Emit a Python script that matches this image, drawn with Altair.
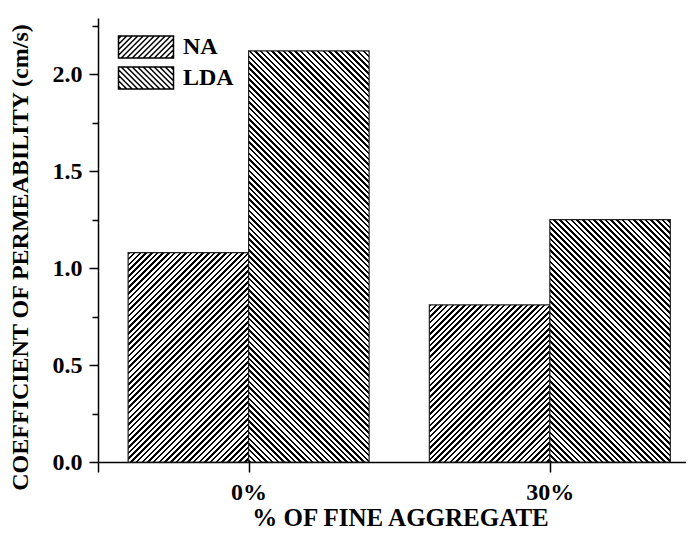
import math
import altair as alt
import pandas as pd

# ---------------- data ----------------
groups = ["0%", "30%"]
series = ["NA", "LDA"]
na_values = [1.08, 0.81]
lda_values = [2.12, 1.25]
y_tick_values = [0.0, 0.25, 0.5, 0.75, 1.0, 1.25, 1.5, 1.75, 2.0, 2.25]

rows = []
for gi, g in enumerate(groups):
    for si, (s, vals) in enumerate(zip(series, [na_values, lda_values])):
        rows.append({"idx": len(rows), "group": g, "gi": gi + 1, "series": s,
                     "si": si, "value": vals[gi]})
df = pd.DataFrame(rows)

# ---------------- layout / style ----------------
W, H = 588, 444
XDOM = [0.5, 2.452]
YDOM = [0.0, 2.29]
BAR = 0.4
FONT = "Liberation Serif"
PERIOD = 5.7      # hatch period (px, measured horizontally)
FRAC = 0.45       # black share of each hatch period
HATCH = {"NA": "/", "LDA": "\\"}

px_x = W / (XDOM[1] - XDOM[0])
px_y = H / (YDOM[1] - YDOM[0])


def hatch_gradient(w, h, kind):
    """Linear gradient with hard stops that draws 45-degree hatching."""
    d = w * w + h * h
    x2 = (w + h) * w / d
    if kind == "/":
        x1, y1, y2 = 0, 0, (w + h) * h / d
    else:
        x1, y1, y2 = 0, 1, 1 - (w + h) * h / d
    n = (w + h) / PERIOD
    stops = []
    i = 0
    while i / n < 1:
        o0 = i / n
        o1 = min((i + FRAC) / n, 1)
        o2 = min((i + 1) / n, 1)
        stops += [
            {"offset": round(o0, 5), "color": "#000000"},
            {"offset": round(o1, 5), "color": "#000000"},
            {"offset": round(o1, 5), "color": "#ffffff"},
            {"offset": round(o2, 5), "color": "#ffffff"},
        ]
        i += 1
    return {"gradient": "linear", "x1": x1, "y1": y1,
            "x2": round(x2, 5), "y2": round(y2, 5), "stops": stops}


def hatch_path(kind, hw=2.5, hh=1.0, step=0.5):
    """Legend symbol: rectangle outline with hatch lines (unit coords)."""
    f = lambda v: f"{v:.3f}".rstrip("0").rstrip(".")
    parts = [f"M{-hw},{-hh}L{hw},{-hh}L{hw},{hh}L{-hw},{hh}Z"]
    c = -(hw + hh) + step / 2
    while c < hw + hh:
        xa, xb = max(-hw, c - hh), min(hw, c + hh)
        if xb - xa > 1e-6:
            if kind == "/":
                parts.append(f"M{f(xa)},{f(c - xa)}L{f(xb)},{f(c - xb)}")
            else:
                parts.append(f"M{f(xa)},{f(xa - c)}L{f(xb)},{f(xb - c)}")
        c += step
    return "".join(parts)


label_expr = " : ".join(
    [f"datum.value == {i + 1} ? '{g}'" for i, g in enumerate(groups)]) + " : ''"

xscale = alt.Scale(domain=XDOM, nice=False, zero=False)
yscale = alt.Scale(domain=YDOM, nice=False, zero=False)

xaxis = alt.Axis(
    values=[XDOM[0]] + [i + 1 for i in range(len(groups))],
    labelExpr=label_expr, tickSize=10, labelPadding=27,
    labelBaseline="alphabetic", labelFlush=False, labelOverlap=False,
    title="% OF FINE AGGREGATE", titleX=302, titleY=63,
    titleBaseline="alphabetic", titleAlign="center", titleAnchor="middle",
)
yaxis = alt.Axis(
    values=y_tick_values,
    labelExpr="round(datum.value * 4) % 2 == 0 ? format(datum.value, '.1f') : ''",
    tickSize={"condition": {"test": "round(datum.value * 4) % 2 == 0", "value": 9}, "value": 6},
    labelPadding=7, labelOverlap=False, labelFlush=False,
    title="COEFFICIENT OF PERMEABILITY (cm/s)", titleX=-78, titleY=239,
    titleAngle=270, titleBaseline="middle", titleAlign="center",
    titleFontSize=24,
)

# legend carrier (points hidden behind the bars)
legend_layer = alt.Chart(df).transform_calculate(
    xc=f"datum.gi - {BAR} + datum.si * {BAR} + {BAR / 2}",
    ym="datum.value / 2",
).mark_point(filled=False, color="black", strokeWidth=1.5, size=484, opacity=1).encode(
    x=alt.X("xc:Q", scale=xscale, axis=xaxis),
    y=alt.Y("ym:Q", scale=yscale, axis=yaxis),
    shape=alt.Shape(
        "series:N",
        scale=alt.Scale(domain=series, range=[hatch_path(HATCH[s]) for s in series]),
        legend=alt.Legend(
            title=None, orient="none", legendX=36, legendY=17,
            labelOffset=25, rowPadding=3, padding=0,
            symbolSize=484, symbolStrokeWidth=1.5, symbolStrokeColor="black",
            symbolFillColor="white",
            labelFont=FONT, labelFontSize=24, labelFontWeight="bold",
            labelColor="black",
        ),
    ),
)

bar_layers = []
for r in rows:
    w = BAR * px_x
    h = r["value"] * px_y
    grad = hatch_gradient(w, h, HATCH[r["series"]])
    bar_layers.append(
        alt.Chart(df).transform_filter(f"datum.idx == {r['idx']}").transform_calculate(
            x0=f"datum.gi - {BAR} + datum.si * {BAR}",
            x1=f"datum.gi + datum.si * {BAR}",
        ).mark_bar(fill=grad, stroke="#222222", strokeWidth=1.2).encode(
            x=alt.X("x0:Q", scale=xscale, axis=xaxis),
            x2="x1:Q",
            y=alt.Y("value:Q", scale=yscale, axis=yaxis),
            y2=alt.datum(0),
        )
    )

chart = alt.layer(legend_layer, *bar_layers).properties(
    width=W, height=H,
    padding={"left": 90, "top": 10, "right": 0, "bottom": 69},
    autosize=alt.AutoSizeParams(type="none"),
    background="white",
).configure_view(stroke=None).configure_axis(
    grid=False, domainColor="black", domainWidth=1.5,
    tickColor="black", tickWidth=1.5,
    labelFont=FONT, labelFontSize=24, labelFontWeight="bold", labelColor="black",
    titleFont=FONT, titleFontSize=25, titleFontWeight="bold", titleColor="black",
)

chart.save("out.html", embed_options={"renderer": "svg", "actions": False})
